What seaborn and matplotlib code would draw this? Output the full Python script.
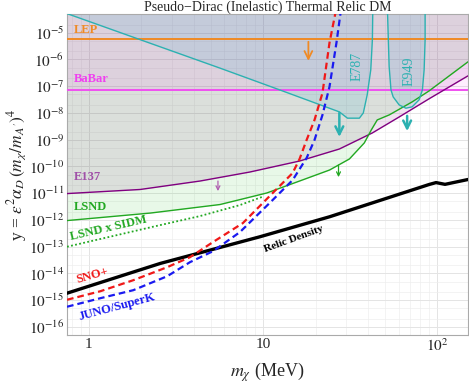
import matplotlib
import numpy as np
import seaborn as sns
from matplotlib import pyplot as plt
from matplotlib import ticker

matplotlib.use("Agg")

# limits
lep_y = 6.0e-6
babar_y = 7.3e-8

e137_m = [0.75, 1.97, 4.35, 8.39, 16.2, 27.4, 42.4, 60.4, 89.7, 150]
e137_y = [9.7e-12, 1.38e-11, 2.86e-11, 6.2e-11, 1.6e-10, 4.5e-10, 1.8e-9, 7.1e-9, 3.4e-8, 2.45e-7]

lsnd_m = [0.75, 2.25, 5.66, 10.5, 16.2, 24.1, 31.3, 38.1, 41.8, 45.2, 53.0, 71.7, 89.7, 150]
lsnd_y = [9.5e-13, 1.81e-12, 3.78e-12, 1.02e-11, 2.86e-11, 7.4e-11, 1.91e-10, 7.6e-10,
          2.33e-9, 5.5e-9, 8.5e-9, 2.6e-8, 6.7e-8, 8.2e-7]

sidm_m = [0.75, 2.34, 4.35, 7.36, 9.83]
sidm_y = [1.0e-13, 5.6e-13, 1.4e-12, 3.6e-12, 7.2e-12]

relic_m = [0.75, 2.57, 9.58, 24.1, 89.7, 98.3, 110.7, 150]
relic_y = [1.83e-15, 2.37e-14, 2.35e-13, 1.32e-12, 2.12e-11, 2.5e-11, 2.15e-11, 3.26e-11]

sno_m = [0.75, 1.166, 1.80, 2.82, 3.81, 5.16, 7.66, 11.36, 14.78, 16.2, 17.78, 19.74, 21.93, 24.05, 26.03]
sno_y = [1.04e-15, 2.17e-15, 5.6e-15, 1.72e-14, 4.07e-14, 1.49e-13, 7.66e-13, 1.02e-11,
         5.7e-11, 1.91e-10, 9.8e-10, 5.5e-9, 5.66e-8, 4.2e-6, 5.6e-5]

juno_m = [0.75, 1.166, 1.80, 2.82, 3.81, 5.16, 7.36, 11.36, 14.78, 17.78, 19.74, 21.93, 24.05, 26.37, 27.8]
juno_y = [5.7e-16, 1.19e-15, 2.37e-15, 7.9e-15, 2.65e-14, 6.8e-14, 3.5e-13, 5.6e-12,
          3.1e-11, 2.08e-10, 9.8e-10, 8.5e-9, 9.5e-8, 4.2e-6, 5.2e-5]

e787_m = [0.75, 5.66, 12.46, 27.4, 30.5, 35.7, 37.6, 39.6, 41.5, 42.4, 42.6]
e787_y = [5.2e-5, 4.76e-7, 7.3e-8, 1.1e-8, 6.4e-9, 6.4e-9, 1.0e-8, 4.8e-8, 4.1e-7, 5.5e-6, 5.2e-5]

e949_m = [51.8, 52.9, 54.2, 55.8, 60.4, 66.0, 71.7, 78.6, 82.1, 84.0, 85.1, 85.1]
e949_y = [5.2e-5, 5.5e-7, 7.3e-8, 4.0e-8, 2.0e-8, 1.51e-8, 1.7e-8, 3.1e-8, 7.3e-8, 4.1e-7, 5.5e-6, 5.2e-5]

TEAL = "#2cb1b1"
GREEN = "#22a822"
PURPLE = "#800080"


def draw_arrow(ax, m, y0, y1, color, lw, size):
    ax.annotate("", xy=(m, y1), xytext=(m, y0),
                arrowprops=dict(arrowstyle="->", color=color, lw=lw, mutation_scale=size,
                                shrinkA=0, shrinkB=0), zorder=6)


def label(ax, m, y, text, color, rot=0, weight="bold", size=9):
    ax.text(m, y, text, color=color, rotation=rot, fontsize=size, fontweight=weight,
            ha="center", va="center", rotation_mode="anchor", zorder=7)


sns.set_style("white")
plt.rcParams["font.family"] = ["Liberation Serif", "DejaVu Serif"]
plt.rcParams["mathtext.fontset"] = "stix"

fig = plt.figure(figsize=(4.69, 3.83), dpi=100)
ax = fig.add_axes([0.1429, 0.1253, 0.855, 0.838])
ax.set_xscale("log")
ax.set_yscale("log")
ax.set_xlim(0.75, 150)
ax.set_ylim(5e-17, 5e-5)

# shaded exclusions
ax.fill_between(e137_m, e137_y, 1, color=PURPLE, alpha=0.11, lw=0, zorder=1)
ax.fill_between(lsnd_m, lsnd_y, 1, color="#30c030", alpha=0.11, lw=0, zorder=1)
ax.axhspan(babar_y, 1, color="#ff30ff", alpha=0.08, lw=0, zorder=1)
ax.fill(e787_m + [42.6, 0.75], e787_y + [1, 1], color="#10a0c8", alpha=0.12, lw=0, zorder=1)
ax.fill(e949_m + [85.1, 51.8], e949_y + [1, 1], color="#10a0c8", alpha=0.12, lw=0, zorder=1)

# boundary lines
ax.axhline(lep_y, color="#f08a24", lw=1.4, zorder=3)
ax.axhline(babar_y, color="#f050f0", lw=1.4, zorder=3)
sns.lineplot(x=e137_m, y=e137_y, ax=ax, color=PURPLE, lw=1.0, sort=False, zorder=3)
sns.lineplot(x=lsnd_m, y=lsnd_y, ax=ax, color=GREEN, lw=1.0, sort=False, zorder=3)
sns.lineplot(x=sidm_m, y=sidm_y, ax=ax, color=GREEN, lw=1.3, sort=False,
             linestyle=(0, (1, 1.3)), zorder=3)
ax.plot(e787_m, e787_y, color=TEAL, lw=1.0, zorder=3)
ax.plot(e949_m, e949_y, color=TEAL, lw=1.0, zorder=3)
sns.lineplot(x=relic_m, y=relic_y, ax=ax, color="black", lw=2.4, sort=False, zorder=4)
sns.lineplot(x=sno_m, y=sno_y, ax=ax, color="#f01818", lw=1.6, sort=False,
             linestyle=(0, (3, 1.8)), zorder=4)
sns.lineplot(x=juno_m, y=juno_y, ax=ax, color="#1a1af0", lw=1.6, sort=False,
             linestyle=(0, (3, 1.8)), zorder=4)

# arrows
draw_arrow(ax, 18.2, 4.6e-6, 8.9e-7, "#f08a24", 1.3, 14)
draw_arrow(ax, 27.4, 1.0e-8, 1.27e-9, TEAL, 1.8, 14)
draw_arrow(ax, 67.1, 7.8e-9, 2.1e-9, TEAL, 1.8, 14)
draw_arrow(ax, 5.51, 2.86e-11, 1.2e-11, "#b060b0", 0.9, 7)
draw_arrow(ax, 27.1, 1.14e-10, 4.0e-11, GREEN, 0.9, 7)

# labels
ax.text(0.818, 1.3e-5, "LEP", color="#f08a24", fontsize=9, fontweight="bold", va="center", zorder=7)
ax.text(0.818, 1.9e-7, "BaBar", color="#f040f0", fontsize=9, fontweight="bold", va="center", zorder=7)
ax.text(0.818, 4.15e-11, "E137", color="#a050a8", fontsize=9, fontweight="bold", va="center", zorder=7)
ax.text(0.818, 3.0e-12, "LSND", color=GREEN, fontsize=9, fontweight="bold", va="center", zorder=7)
label(ax, 1.30, 5.0e-13, "LSND x SIDM", GREEN, rot=13)
label(ax, 1.05, 8.6e-15, "SNO+", "#f01818", rot=16)
label(ax, 1.45, 5.8e-16, "JUNO/SuperK", "#1a1af0", rot=15)
label(ax, 15.0, 1.93e-13, "Relic Density", "black", rot=20, size=8)
label(ax, 34.8, 5.3e-7, "E787", TEAL, rot=90, weight="normal", size=10)
label(ax, 69.0, 3.5e-7, "E949", TEAL, rot=90, weight="normal", size=10)

# axes styling
ax.xaxis.set_major_locator(ticker.FixedLocator([1, 10, 100]))
ax.xaxis.set_major_formatter(ticker.FixedFormatter(["1", "10", r"$10^2$"]))
ax.xaxis.set_minor_locator(ticker.LogLocator(base=10, subs=np.arange(2, 10), numticks=20))
ax.xaxis.set_minor_formatter(ticker.NullFormatter())
ax.yaxis.set_major_locator(ticker.FixedLocator([10.0 ** k for k in range(-16, -4)]))
ax.yaxis.set_major_formatter(ticker.FuncFormatter(lambda v, p: r"$10^{%d}$" % round(np.log10(v))))
ax.yaxis.set_minor_locator(ticker.FixedLocator([s * 10.0 ** k for k in range(-17, -4) for s in (2, 5)]))
ax.yaxis.set_minor_formatter(ticker.NullFormatter())
ax.grid(which="major", color="#e4e4e4", lw=0.7, zorder=0)
ax.grid(which="minor", color="#eeeeee", lw=0.5, zorder=0)
ax.set_axisbelow(True)
ax.tick_params(which="both", direction="in", color="#999999", labelsize=11, pad=2)
ax.tick_params(which="major", length=4)
ax.tick_params(which="minor", length=2)
for s in ax.spines.values():
    s.set_color("#aaaaaa")

ax.set_title("Pseudo\u2212Dirac (Inelastic) Thermal Relic DM", fontsize=10, pad=2)
ax.set_xlabel(r"$m_\chi$ (MeV)", fontsize=13, labelpad=4)
ax.set_ylabel(r"y = $\epsilon^2\alpha_D\,(m_\chi/m_{A'})^4$", fontsize=12.5, labelpad=0)

fig.savefig("out.png", dpi=100)
